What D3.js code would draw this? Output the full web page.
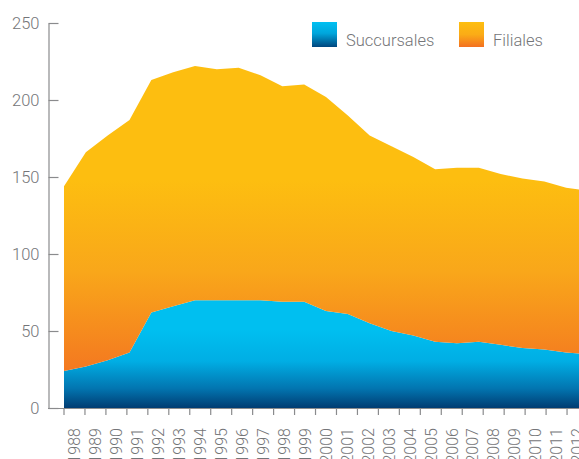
<!DOCTYPE html>
<html>
<head>
<meta charset="utf-8">
<script src="https://cdn.jsdelivr.net/npm/d3@7/dist/d3.min.js"></script>
<style>
  html, body { margin: 0; padding: 0; background: #fff; }
  svg { display: block; }
  text { font-family: Roboto, "Noto Sans", sans-serif; }
</style>
</head>
<body>
<svg id="chart" width="579" height="459"></svg>
<script>
// Years on the horizontal axis
const years = [1988, 1989, 1990, 1991, 1992, 1993, 1994, 1995, 1996, 1997, 1998, 1999,
  2000, 2001, 2002, 2003, 2004, 2005, 2006, 2007, 2008, 2009, 2010, 2011, 2012];

// Number of branches (succursales) per year
const succursales = [24, 27, 31, 36, 62, 66, 70, 70, 70, 70, 69, 69,
  63, 61, 55, 50, 47, 43, 42, 43, 41, 39, 38, 36, 35];

// Number of subsidiaries (filiales) per year, stacked on top of branches
const filiales = [120, 139, 146, 151, 151, 152, 152, 150, 151, 146, 140, 141,
  139, 129, 122, 120, 116, 112, 114, 113, 111, 110, 109, 107, 106];

const yTicks = [0, 50, 100, 150, 200, 250];

const seriesNames = ["Succursales", "Filiales"];

const svg = d3.select("#chart");
const plotLeft = 64, plotRight = 588, plotTop = 23, plotBottom = 408;

const rows = years.map((yr, i) => ({ year: yr, Succursales: succursales[i], Filiales: filiales[i] }));
const stacked = d3.stack().keys(seriesNames)(rows);

const x = d3.scaleLinear().domain([years[0], years[years.length - 1]]).range([plotLeft, plotRight]);
const xBand = d3.scaleBand().domain(years).range([plotLeft, plotRight]);
const y = d3.scaleLinear().domain([0, 250]).range([plotBottom, plotTop]);

// Gradients
const defs = svg.append("defs");
function grad(id, stops, attrs) {
  const g = defs.append("linearGradient").attr("id", id);
  Object.entries(attrs).forEach(([k, v]) => g.attr(k, v));
  stops.forEach(([o, c]) => g.append("stop").attr("offset", o).attr("stop-color", c));
}
grad("gBlue", [[0, "#003c72"], [0.25, "#0275b0"], [0.6, "#00aee4"], [1, "#00bff0"]],
  { gradientUnits: "userSpaceOnUse", x1: 0, x2: 0, y1: plotBottom, y2: 330 });
grad("gOrange", [[0, "#f15a22"], [0.18, "#f47a20"], [0.6, "#f9a71a"], [1, "#fdbe10"]],
  { gradientUnits: "userSpaceOnUse", x1: 0, x2: 0, y1: plotBottom, y2: 180 });
grad("gBlueKey", [[0, "#00c0f2"], [0.45, "#00a6dc"], [1, "#00467e"]],
  { x1: 0, x2: 0, y1: 0, y2: 1 });
grad("gOrangeKey", [[0, "#fdbe10"], [0.5, "#fbac16"], [1, "#f37021"]],
  { x1: 0, x2: 0, y1: 0, y2: 1 });

const fills = { Succursales: "url(#gBlue)", Filiales: "url(#gOrange)" };
const keyFills = { Succursales: "url(#gBlueKey)", Filiales: "url(#gOrangeKey)" };

const area = d3.area()
  .x(d => x(d.data.year))
  .y0(d => y(d[0]))
  .y1(d => y(d[1]));

svg.append("g").selectAll("path")
  .data(stacked)
  .join("path")
  .attr("fill", d => fills[d.key])
  .attr("d", area);

const axisColor = "#8a8b8d";
const textColor = "#747578";

// Y axis
const yAxis = svg.append("g")
  .attr("transform", `translate(48.5,0)`)
  .call(d3.axisLeft(y).tickValues(yTicks).tickSize(-10).tickSizeOuter(0).tickPadding(9));
yAxis.select(".domain").attr("stroke", axisColor).attr("stroke-width", 1.2);
yAxis.selectAll(".tick line").attr("stroke", axisColor).attr("stroke-width", 1.2);
yAxis.selectAll(".tick text")
  .attr("fill", textColor)
  .style("font-size", "16.5px")
  .style("font-weight", 300);

// X axis baseline
svg.append("line")
  .attr("x1", 48).attr("x2", 579)
  .attr("y1", plotBottom + 0.5).attr("y2", plotBottom + 0.5)
  .attr("stroke", axisColor).attr("stroke-width", 1.2);

// Category boundary ticks
const boundaries = years.map(yr => xBand(yr)).concat([xBand.range()[1]]);
svg.append("g").selectAll("line")
  .data(boundaries)
  .join("line")
  .attr("x1", d => d).attr("x2", d => d)
  .attr("y1", plotBottom).attr("y2", plotBottom + 7)
  .attr("stroke", axisColor).attr("stroke-width", 1.2);

// Year labels, rotated, centred in each category
svg.append("g").selectAll("text")
  .data(years)
  .join("text")
  .attr("transform", d => `translate(${xBand(d) + xBand.bandwidth() / 2},${plotBottom + 20}) rotate(-90)`)
  .attr("text-anchor", "end")
  .attr("dy", "0.36em")
  .attr("fill", textColor)
  .style("font-size", "16px")
  .style("font-weight", 300)
  .text(d => d);

// Legend
const legendPos = { Succursales: 312, Filiales: 459 };
const legend = svg.append("g");
seriesNames.forEach(name => {
  const g = legend.append("g").attr("transform", `translate(${legendPos[name]},22)`);
  g.append("rect").attr("width", 25).attr("height", 25).attr("fill", keyFills[name]);
  g.append("text")
    .attr("x", 34).attr("y", 24)
    .attr("fill", textColor)
    .style("font-size", "16.5px")
    .style("font-weight", 300)
    .text(name);
});
</script>
</body>
</html>
